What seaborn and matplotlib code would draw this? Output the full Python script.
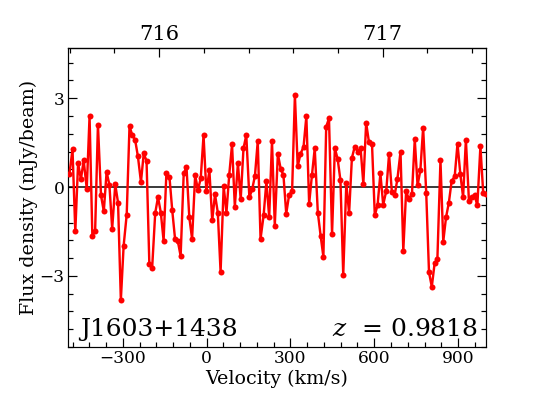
import numpy as np
import pandas as pd
import matplotlib
matplotlib.use("Agg")
import matplotlib.pyplot as plt
from matplotlib.ticker import MultipleLocator
import seaborn as sns

# channel velocities (km/s) and flux densities (mJy/beam)
velocity = [
    -491, -480, -470, -460, -450, -440, -429, -419, -409, -399,
    -389, -378, -368, -358, -348, -338, -327, -317, -307, -297,
    -286, -276, -266, -256, -246, -235, -225, -215, -205, -195,
    -184, -174, -164, -154, -144, -133, -123, -113, -103, -93,
    -82, -72, -62, -52, -41, -31, -21, -11, -1, 10,
    20, 30, 40, 50, 61, 71, 81, 91, 101, 112,
    122, 132, 142, 153, 163, 173, 183, 193, 204, 214,
    224, 234, 244, 255, 265, 275, 285, 295, 306, 316,
    326, 336, 347, 357, 367, 377, 387, 398, 408, 418,
    428, 438, 449, 459, 469, 479, 489, 500, 510, 520,
    530, 541, 551, 561, 571, 581, 592, 602, 612, 622,
    632, 643, 653, 663, 673, 683, 694, 704, 714, 724,
    735, 745, 755, 765, 775, 786, 796, 806, 816, 826,
    837, 847, 857, 867, 877, 888, 898, 908, 918, 928,
    939, 949, 959, 969, 980, 990, 1000,
]
flux = [
    0.45, 1.27, -1.50, 0.81, 0.26, 0.90, -0.06, 2.40, -1.64, -1.47,
    2.11, -0.28, -0.82, 0.51, 0.08, -1.41, 0.09, -0.53, -3.82, -1.98,
    -0.93, 2.06, 1.75, 1.60, 1.04, 0.17, 1.14, 0.88, -2.59, -2.74,
    -0.88, -0.34, -0.86, -1.81, 0.46, 0.34, -0.79, -1.75, -1.83, -2.33,
    0.46, 0.67, -1.02, -1.75, 0.40, -0.10, 0.30, 1.75, -0.15, 0.56,
    -1.13, -0.25, -0.86, -2.87, 0.03, -0.86, 0.42, 1.44, -0.66, 0.80,
    -0.42, 1.31, 1.75, -0.35, -0.08, 0.38, 1.55, -1.75, -0.96, 0.19,
    -1.02, 1.55, -1.30, 1.12, 0.62, 0.40, -0.90, -0.28, -0.13, 3.11,
    0.70, 1.12, 1.36, 2.39, -0.56, 0.40, 1.31, -0.86, -1.64, -2.36,
    2.04, 2.32, -1.58, 1.31, 0.95, 0.23, -2.97, 0.13, -0.89, 0.98,
    1.36, 1.20, 1.32, 0.11, 2.17, 1.52, 1.45, -0.96, -0.60, 0.46,
    -0.60, -0.13, 1.11, -0.16, -0.28, 0.28, 1.19, -2.15, -0.15, -0.40,
    -0.23, 1.61, 0.06, 0.56, 2.01, -0.19, -2.88, -3.37, -2.58, -2.43,
    0.90, -1.84, -1.02, -0.53, 0.20, 0.36, 1.47, 0.45, -0.34, 1.60,
    -0.47, -0.32, -0.28, -0.62, 1.38, -0.20, -0.25,
]

source_name = "J1603+1438"
redshift = 0.9818
freq_ticks = [716, 717]

df = pd.DataFrame({"velocity": velocity, "flux": flux})

sns.set_style("ticks")
plt.rcParams["font.family"] = ["DejaVu Serif"]
plt.rcParams["mathtext.fontset"] = "dejavuserif"
for k in ["text.color", "axes.labelcolor", "xtick.color", "ytick.color",
          "axes.edgecolor"]:
    plt.rcParams[k] = "black"

fig = plt.figure(figsize=(7.5, 5.5), dpi=72)
ax = fig.add_axes([0.126, 0.124, 0.774, 0.755])

ax.axhline(0, color="black", lw=1.5, zorder=1)
sns.lineplot(data=df, x="velocity", y="flux", ax=ax, color="red",
             lw=2.4, marker="o", markersize=6, markeredgewidth=0,
             estimator=None, sort=False, zorder=3)

ax.set_xlim(-496, 1000)
ax.set_ylim(-5.4, 4.7)
ax.xaxis.set_major_locator(MultipleLocator(300))
ax.xaxis.set_minor_locator(MultipleLocator(60))
ax.yaxis.set_major_locator(MultipleLocator(3))
ax.yaxis.set_minor_locator(MultipleLocator(0.6))
ax.tick_params(which="both", direction="in", top=False, right=True,
               width=1.2, labelsize=17)
ax.tick_params(which="major", length=9)
ax.tick_params(which="minor", length=5)
for s in ax.spines.values():
    s.set_linewidth(1.2)

ax.set_xlabel("Velocity (km/s)", fontsize=19, labelpad=2)
ax.set_ylabel("Flux density (mJy/beam)", fontsize=19, labelpad=2)


# observed frequency (MHz) along the top
def v2f(v):
    return 716 + (np.asarray(v) + 170.0) / 800.0


def f2v(f):
    return (np.asarray(f) - 716) * 800.0 - 170.0


top = ax.secondary_xaxis("top", functions=(v2f, f2v))
top.set_xticks(freq_ticks)
top.xaxis.set_minor_locator(MultipleLocator(0.2))
top.tick_params(which="both", direction="in", width=1.2, labelsize=21)
top.tick_params(which="major", length=9)
top.tick_params(which="minor", length=5)
top.spines["top"].set_linewidth(1.2)

ax.text(0.029, 0.035, source_name, transform=ax.transAxes, fontsize=25,
        ha="left", va="baseline")
ax.text(0.981, 0.035, r"$z$  = " + f"{redshift:.4f}", transform=ax.transAxes,
        fontsize=25, ha="right", va="baseline")

fig.savefig("out.png", dpi=72)
